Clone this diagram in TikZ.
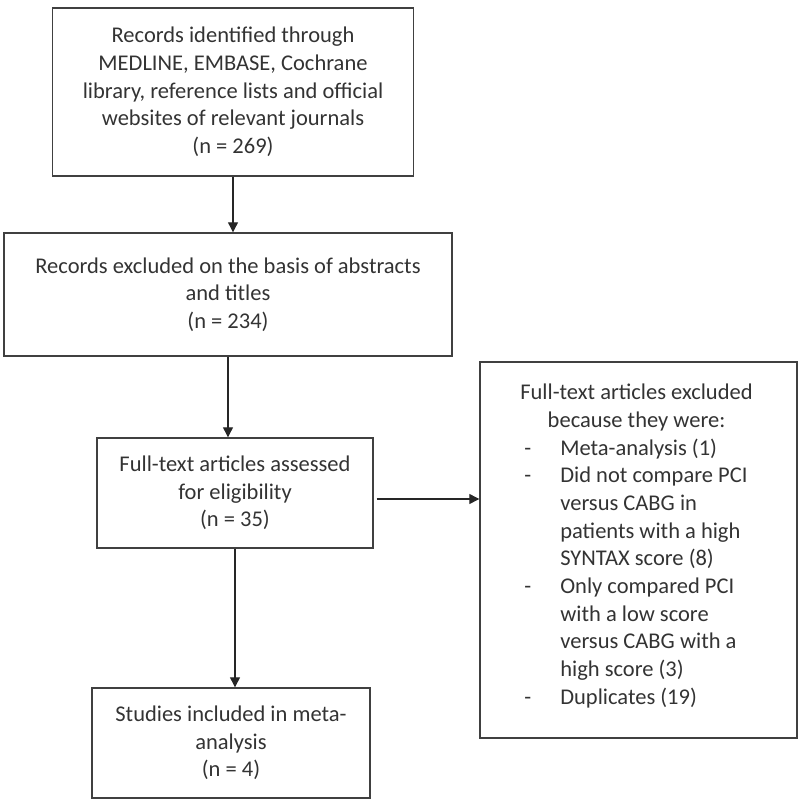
\documentclass[tikz,border=0pt]{standalone}
\usepackage{fontspec}
\setmainfont{Carlito}
\usetikzlibrary{arrows.meta}
\definecolor{boxline}{HTML}{404040}
\tikzset{
  box/.style={draw=boxline, line width=1.4pt, inner sep=0pt, align=center,
    font=\fontsize{22.5}{27.7}\selectfont, text=black!80},
  arr/.style={draw=black!85, line width=1.2pt, -{Triangle[width=10pt,length=10pt]}}
}
\begin{document}
\begin{tikzpicture}[x=1pt,y=-1pt]
\useasboundingbox (0,0) rectangle (800,805);
\node[box, minimum width=360.5pt, minimum height=168pt] (b1) at (233,92)
  {Records identified through\\MEDLINE, EMBASE, Cochrane\\library, reference lists and official\\websites of relevant journals\\(n = 269)};
\node[box, minimum width=448pt, minimum height=123pt] (b2) at (228,294.5)
  {Records excluded on the basis of abstracts\\and titles\\(n = 234)};
\node[box, minimum width=276pt, minimum height=110pt] (b3) at (235,493)
  {Full-text articles assessed\\for eligibility\\(n = 35)};
\node[box, minimum width=278pt, minimum height=110pt] (b4) at (231,743)
  {Studies included in meta-\\analysis\\(n = 4)};
\node[box, minimum width=317pt, minimum height=376pt] (ex) at (638.5,550)
  {\def\arraystretch{1}\begin{tabular}{@{}p{36pt}@{}l@{}}
   \multicolumn{2}{@{}c@{}}{\hspace*{-4pt}Full-text articles excluded}\\
   \multicolumn{2}{@{}c@{}}{\hspace*{-4pt}because they were:}\\
   - & Meta-analysis (1)\\
   - & Did not compare PCI\\
     & versus CABG in\\
     & patients with a high\\
     & SYNTAX score (8)\\
   - & Only compared PCI\\
     & with a low score\\
     & versus CABG with a\\
     & high score (3)\\
   - & Duplicates (19)
   \end{tabular}\\[6pt]};
\draw[arr] (b1.south) -- (b1.south |- b2.north);
\draw[arr] (b2.south) -- (b2.south |- b3.north);
\draw[arr] ([xshift=3pt,yshift=-6pt]b3.east) -- ([yshift=-6pt]b3.east -| ex.west);
\draw[arr] (b3.south) -- (b3.south |- b4.north);
\end{tikzpicture}
\end{document}
